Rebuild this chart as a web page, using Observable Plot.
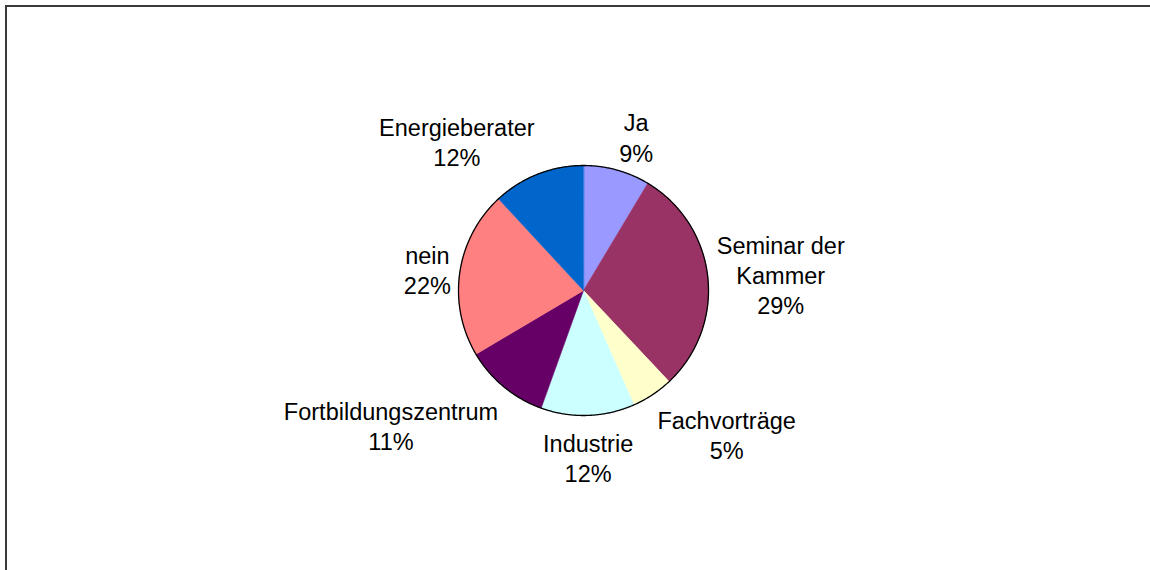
<!DOCTYPE html>
<html>
<head>
<meta charset="utf-8">
<script src="https://cdn.jsdelivr.net/npm/d3@7"></script>
<script src="https://cdn.jsdelivr.net/npm/@observablehq/plot@0.6"></script>
<style>
  html, body { margin: 0; padding: 0; background: #fff; overflow: hidden; }
  #wrap { position: relative; width: 1150px; height: 570px; }
  #border { position: absolute; left: 5px; top: 5px; width: 1200px; height: 700px;
            border-left: 2px solid #3a3a3a; border-top: 2px solid #3a3a3a; pointer-events: none; }
  #chart { position: absolute; left: 0; top: 0; }
</style>
</head>
<body>
<div id="wrap"><div id="chart"></div><div id="border"></div></div>
<script>
// ---- data ----
const categories = ["Ja", "Seminar der Kammer", "Fachvorträge", "Industrie", "Fortbildungszentrum", "nein", "Energieberater"];
const shares = [8.6, 29.4, 5.4, 12.1, 11.0, 21.6, 11.9];
const colors = ["#9999FF", "#993366", "#FFFFCC", "#CCFFFF", "#660066", "#FF8080", "#0066CC"];

// ---- layout ----
const W = 1150, H = 570;
const cx = 583, cy = 290, R = 125;
const gapX = 9 / R, gapY = 13 / R;
const fontSize = 23.5;
const fontFamily = "'Liberation Sans', Arial, sans-serif";

const total = d3.sum(shares);
const pct = d3.format(".0%");

const ctx = document.createElement("canvas").getContext("2d");
ctx.font = `${fontSize}px ${fontFamily}`;
const textWidth = t => d3.max(t.split("\n"), l => ctx.measureText(l).width);

// slice polygons in unit-circle data space (angle clockwise from 12 o'clock)
const slicePts = [];
const labels = [];
let cum = 0;
categories.forEach((cat, i) => {
  const a0 = cum / total * 2 * Math.PI;
  cum += shares[i];
  const a1 = cum / total * 2 * Math.PI;
  slicePts.push({cat, x: 0, y: 0});
  const n = Math.max(2, Math.ceil((a1 - a0) / (Math.PI / 360)));
  for (let k = 0; k <= n; k++) {
    const a = a0 + (a1 - a0) * k / n;
    slicePts.push({cat, x: Math.sin(a), y: Math.cos(a)});
  }
  const am = (a0 + a1) / 2;
  const s = Math.sin(am), c = Math.cos(am);
  const name = cat.length > 15 && cat.includes(" ") ? cat.replace(/ (?=[^ ]*$)/, "\n") : cat;
  const text = name + "\n" + pct(shares[i] / total);
  const half = textWidth(text) / 2 / R;       // half box width in data units
  const side = s > 0.2 ? 1 : s < -0.2 ? -1 : 0;
  labels.push({
    cat, text,
    x: (1 + gapX) * s + side * half,
    y: (1 + gapY) * c,
    v: c > 0.2 ? "bottom" : c < -0.2 ? "top" : "middle"
  });
});

const outline = d3.range(0, 721).map(k => ({x: Math.sin(k / 720 * 2 * Math.PI), y: Math.cos(k / 720 * 2 * Math.PI)}));

const vdy = {top: 2, middle: -1, bottom: 4};
const textMarks = ["top", "middle", "bottom"].map(v => Plot.text(labels.filter(d => d.v === v), {
  x: "x", y: "y", text: "text",
  textAnchor: "middle", lineAnchor: v, dy: vdy[v],
  fontSize, lineHeight: 1.28, fill: "#000", fontFamily
}));

const chart = Plot.plot({
  width: W, height: H, margin: 0,
  style: {background: "transparent", overflow: "visible"},
  x: {domain: [-1, 1], range: [cx - R, cx + R], axis: null},
  y: {domain: [-1, 1], range: [cy + R, cy - R], axis: null},
  color: {domain: categories, range: colors},
  marks: [
    Plot.line(slicePts, {x: "x", y: "y", z: "cat", fill: "cat", stroke: "cat", strokeWidth: 0.6, curve: "linear-closed"}),
    Plot.line(outline, {x: "x", y: "y", stroke: "#000", strokeWidth: 1.3, fill: "none"}),
    ...textMarks
  ]
});
document.getElementById("chart").appendChild(chart);
</script>
</body>
</html>
